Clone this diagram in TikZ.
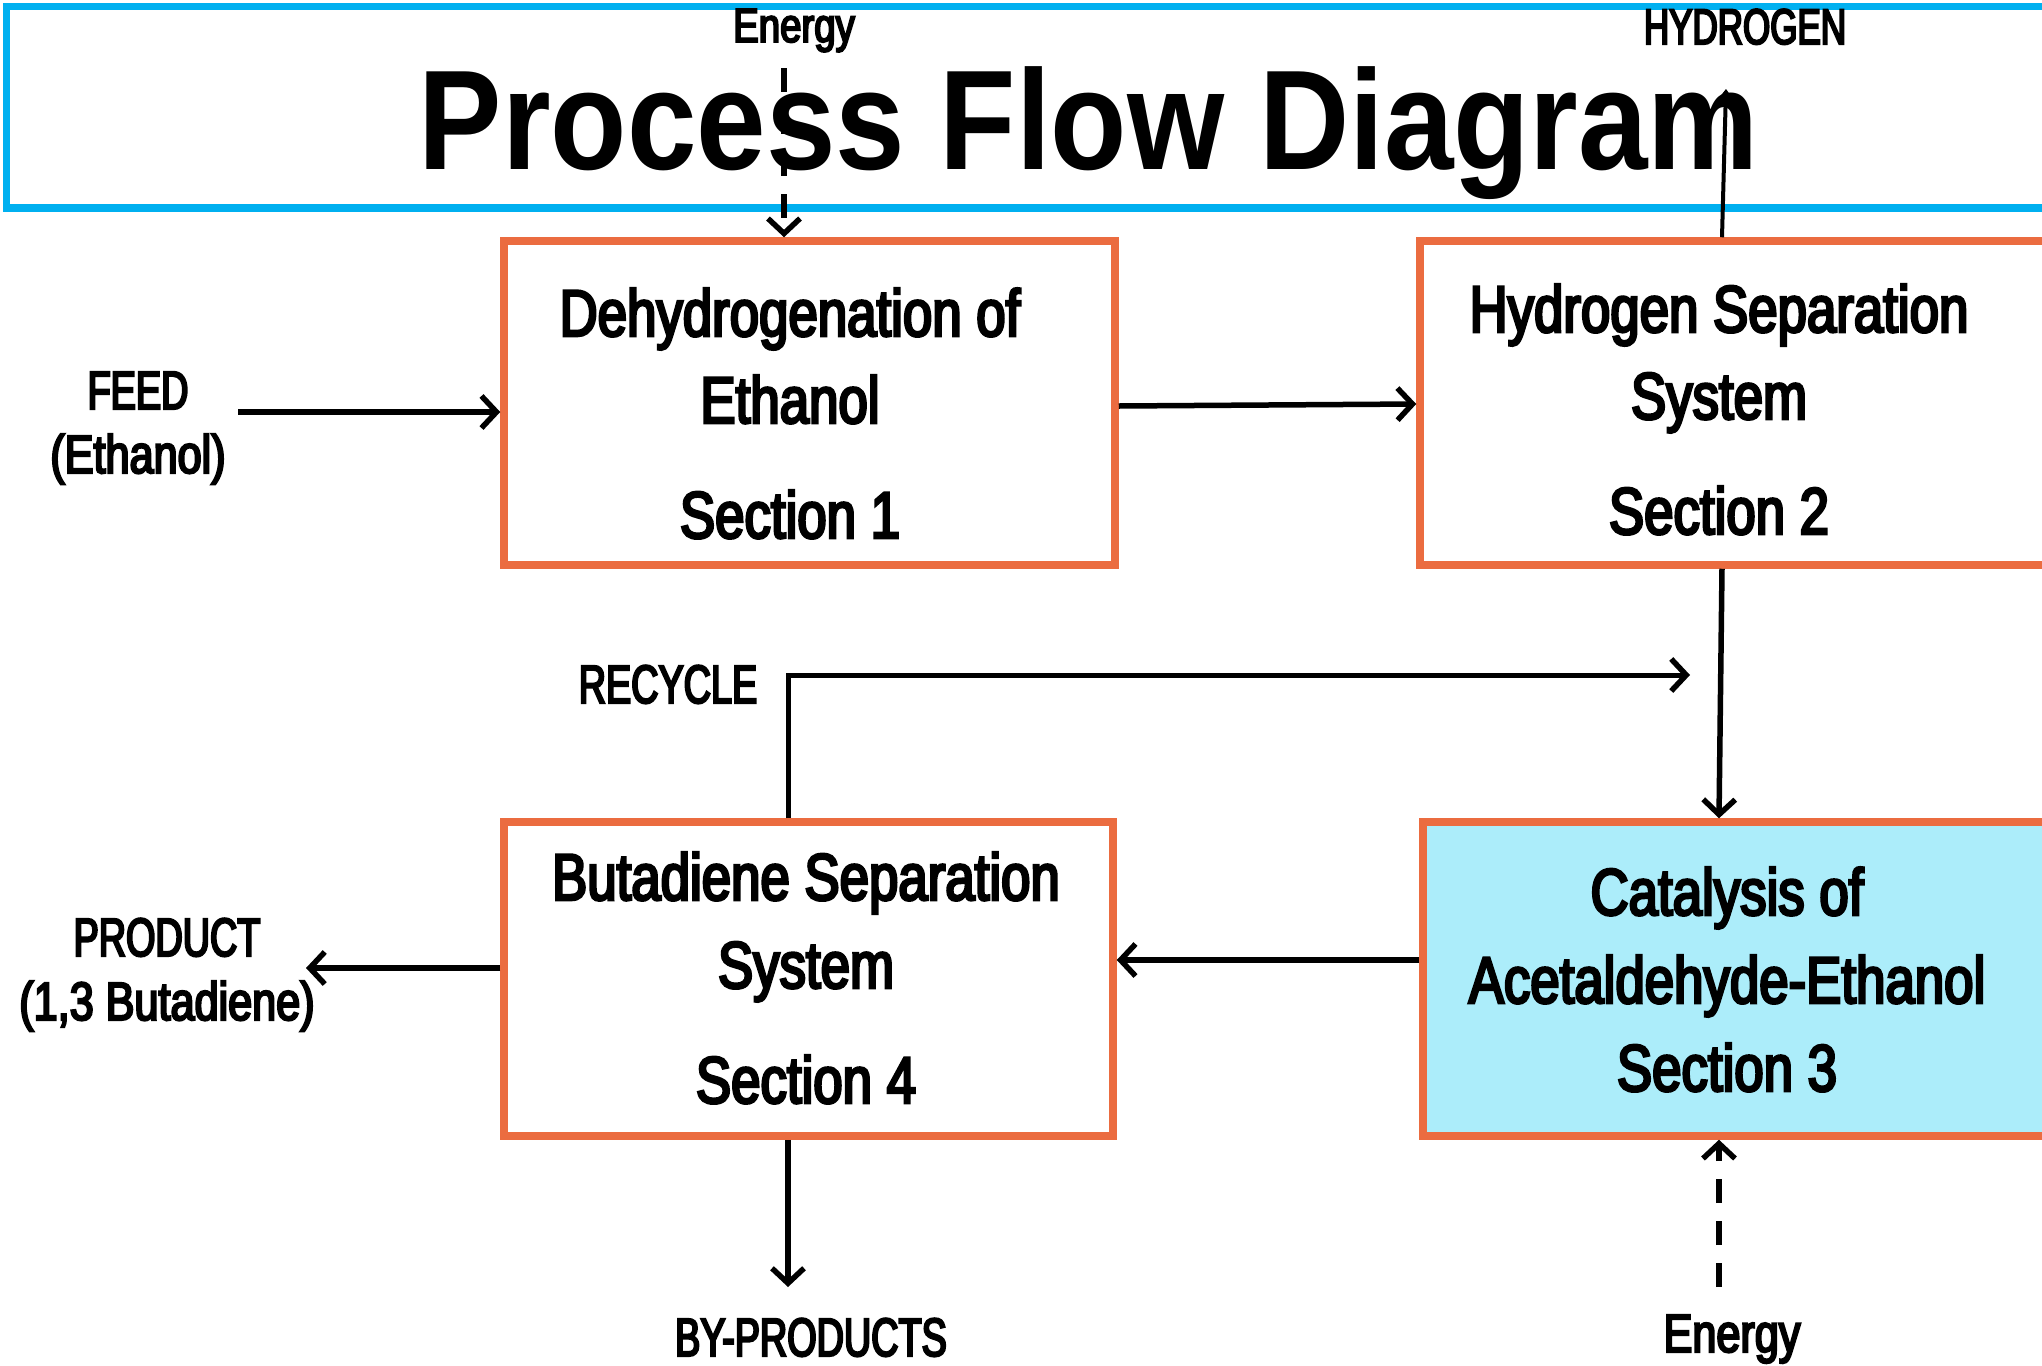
\documentclass[tikz,border=0pt]{standalone}
\usepackage{fontspec}
\setmainfont{Liberation Sans}
\newfontfamily\condf{Liberation Sans}[FakeStretch=0.8, FakeBold=4]
\newfontfamily\condu{Liberation Sans}[FakeStretch=0.7, FakeBold=4]
\newfontfamily\titlef{Liberation Sans}[FakeStretch=0.88]
\usetikzlibrary{arrows.meta}
\definecolor{boxorange}{RGB}{235,108,64}
\definecolor{boxcyan}{RGB}{172,237,250}
\definecolor{titleblue}{RGB}{0,176,240}
\tikzset{
  box/.style={draw=boxorange, line width=3.75pt, rectangle, inner sep=0pt},
  titlebox/.style={draw=titleblue, line width=3.75pt, rectangle, inner sep=0pt},
  boxtext/.style={font=\condf\fontsize{33pt}{36pt}\selectfont, anchor=base, inner sep=0pt},
  lbl/.style={font=\condf\fontsize{27pt}{30pt}\selectfont, anchor=base, inner sep=0pt},
  ulbl/.style={font=\condu\fontsize{27pt}{30pt}\selectfont, anchor=base, inner sep=0pt},
  toplbl/.style={font=\condf\fontsize{24pt}{26pt}\selectfont, anchor=base, inner sep=0pt},
  toplblu/.style={font=\condu\fontsize{25pt}{27pt}\selectfont, anchor=base, inner sep=0pt},
  arr/.style={line width=2.75pt, -{Straight Barb[length=7.5pt,width=16pt,line width=2.75pt]}},
  dasharr/.style={arr, dash pattern=on 12pt off 9pt},
}
\begin{document}
\begin{tikzpicture}[x=0.5pt, y=-0.5pt]
\clip (0,0) rectangle (2042,1366);
\useasboundingbox (0,0) rectangle (2042,1366);
\fill[white] (0,0) rectangle (2042,1366);

% title
\node[titlebox, minimum width=1041.75pt, minimum height=100.75pt] (tb) at (1048,107) {};
\node[font=\titlef\bfseries\fontsize{71pt}{75pt}\selectfont, anchor=base, inner sep=0pt] (title) at (1089,169) {Process Flow Diagram};

% boxes
\node[box, minimum width=305.5pt, minimum height=162pt] (b1) at (809.5,403) {};
\node[box, minimum width=330pt, minimum height=162pt] (b2) at (1750,403) {};
\node[box, fill=boxcyan, minimum width=328.5pt, minimum height=157pt] (b3) at (1751.5,979) {};
\node[box, minimum width=304.5pt, minimum height=157pt] (b4) at (808.5,979) {};

% box texts
\node[boxtext] (t1a) at (790,336) {Dehydrogenation of};
\node[boxtext] (t1b) at (790,423) {Ethanol};
\node[boxtext] (t1c) at (790,538) {Section 1};
\node[boxtext] (t2a) at (1719,332) {Hydrogen Separation};
\node[boxtext] (t2b) at (1719,419) {System};
\node[boxtext] (t2c) at (1719,534) {Section 2};
\node[boxtext] (t3a) at (1727,915) {Catalysis of};
\node[boxtext] (t3b) at (1727,1003) {Acetaldehyde-Ethanol};
\node[boxtext] (t3c) at (1727,1091) {Section 3};
\node[boxtext] (t4a) at (806,900) {Butadiene Separation};
\node[boxtext] (t4b) at (806,988) {System};
\node[boxtext] (t4c) at (806,1103) {Section 4};

% labels
\node[toplbl] (energy1) at (794,42) {Energy};
\node[toplblu] (hydrogen) at (1745,44) {HYDROGEN};
\node[ulbl] (feed) at (138,409) {FEED};
\node[lbl] (feed2) at (138,473) {(Ethanol)};
\node[ulbl] (recycle) at (668,703) {RECYCLE};
\node[ulbl] (product) at (167,956) {PRODUCT};
\node[lbl] (product2) at (167,1020) {(1,3 Butadiene)};
\node[ulbl] (byprod) at (811,1356) {BY-PRODUCTS};
\node[lbl] (energy2) at (1732,1352) {Energy};

% free ends
\coordinate (feedstart) at (238,412);
\coordinate (e1start) at (784,68);
\coordinate (h2end) at (1726,89);
\coordinate (recend) at (1690,675);
\coordinate (prodend) at (306,968);
\coordinate (bpend) at (788,1287);
\coordinate (e2start) at (1719,1287);

% connectors
\draw[arr] (feedstart) -- (b1.west |- 0,412);
\draw[dasharr] (e1start) -- (b1.north -| 784,0);
\draw[arr] (b1.east |- 0,406) -- (b2.west |- 0,404);
\draw[line width=2pt, -{Straight Barb[length=4pt,width=6pt,line width=2pt]}] (b2.north -| 1722,0) -- (h2end);
\draw[arr] (b2.south -| 1722,0) -- (b3.north -| 1719,0);
\draw[arr, line width=2.5pt] (b4.north -| 788,0) |- (recend);
\draw[arr] (b3.west |- 0,960) -- (b4.east |- 0,960);
\draw[arr] (b4.west |- 0,968) -- (prodend);
\draw[arr] (b4.south -| 788,0) -- (bpend);
\draw[dasharr] (e2start) -- (b3.south -| 1719,0);
\end{tikzpicture}
\end{document}
